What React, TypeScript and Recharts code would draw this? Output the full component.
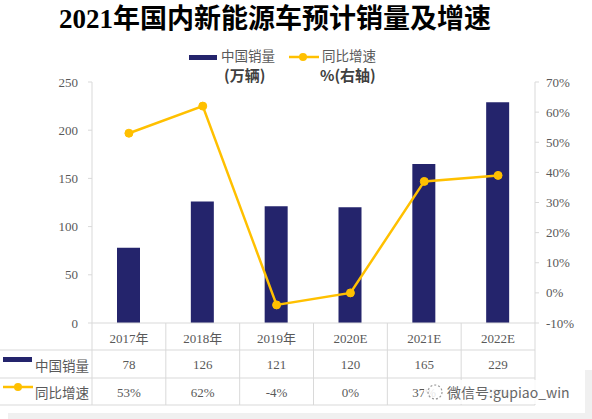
import { ComposedChart, Bar, Line, XAxis, YAxis } from 'recharts';

const years = ['2017年', '2018年', '2019年', '2020E', '2021E', '2022E'];
const sales = [78, 126, 121, 120, 165, 229];
const growth = [53, 62, -4, 0, 37, 39];
const leftTicks = [0, 50, 100, 150, 200, 250];
const rightTicks = [-10, 0, 10, 20, 30, 40, 50, 60, 70];

const data = years.map((year, i) => ({ year, sales: sales[i], growth: growth[i] }));

const W = 592;
const H = 419;
const PLOT_LEFT = 92;
const PLOT_RIGHT = 535;
const PLOT_TOP = 82;
const PLOT_BOTTOM = 323;
const BAND = (PLOT_RIGHT - PLOT_LEFT) / years.length;
const ROW1 = 350;
const ROW2 = 378;
const TABLE_BOTTOM = 405;

const NAVY = '#24246c';
const GOLD = '#ffc000';
const GRID = '#d9d9d9';
const TEXT = '#595959';
const SERIF = '"Liberation Serif", "Noto Sans CJK SC", serif';
const SANS = '"Noto Sans CJK SC", "Noto Sans", sans-serif';

function TableTick(props: any) {
  const { x, index } = props;
  const half = BAND / 2;
  const last = index === years.length - 1;
  return (
    <g>
      {index === 0 && (
        <g>
          <line x1={0} x2={PLOT_RIGHT} y1={ROW1} y2={ROW1} stroke={GRID} />
          <line x1={0} x2={PLOT_RIGHT} y1={ROW2} y2={ROW2} stroke={GRID} />
          <line x1={0} x2={PLOT_RIGHT} y1={TABLE_BOTTOM} y2={TABLE_BOTTOM} stroke={GRID} />
          <rect x={3} y={357} width={29} height={5} fill={NAVY} />
          <text x={35} y={365} fontSize={13.5} fill={TEXT} fontFamily={SANS} dominantBaseline="central">
            中国销量
          </text>
          <line x1={3} x2={33} y1={387} y2={387} stroke={GOLD} strokeWidth={2.5} />
          <circle cx={18} cy={387} r={4} fill={GOLD} />
          <text x={35} y={392} fontSize={13.5} fill={TEXT} fontFamily={SANS} dominantBaseline="central">
            同比增速
          </text>
        </g>
      )}
      <line x1={x - half} x2={x - half} y1={PLOT_BOTTOM} y2={TABLE_BOTTOM} stroke={GRID} />
      {last && <line x1={x + half} x2={x + half} y1={PLOT_BOTTOM} y2={TABLE_BOTTOM} stroke={GRID} />}
      <text x={x} y={338} textAnchor="middle" dominantBaseline="central" fontSize={13} fill={TEXT} fontFamily={SERIF}>
        {years[index]}
      </text>
      <text x={x} y={364} textAnchor="middle" dominantBaseline="central" fontSize={13} fill={TEXT} fontFamily={SERIF}>
        {sales[index]}
      </text>
      <text x={x} y={392} textAnchor="middle" dominantBaseline="central" fontSize={13} fill={TEXT} fontFamily={SERIF}>
        {growth[index] + '%'}
      </text>
    </g>
  );
}

export default function App() {
  return (
    <div style={{ position: 'absolute', left: 0, top: 0, width: W, height: H, background: '#fff', overflow: 'hidden' }}>
      <div
        style={{
          position: 'absolute', left: 0, top: 0, width: 550, textAlign: 'center',
          fontFamily: SERIF, fontSize: 27, fontWeight: 'bold', color: '#000', lineHeight: '38px',
        }}
      >
        2021年国内新能源车预计销量及增速
      </div>
      <div style={{ position: 'absolute', left: 189, top: 47, fontFamily: SANS, fontSize: 13.5, color: TEXT, lineHeight: '16px' }}>
        <span style={{ display: 'inline-block', width: 28, height: 5, background: NAVY, verticalAlign: 'middle', marginRight: 4 }} />
        中国销量
      </div>
      <div style={{ position: 'absolute', left: 289, top: 47, fontFamily: SANS, fontSize: 13.5, color: TEXT, lineHeight: '16px' }}>
        <svg width={30} height={10} style={{ verticalAlign: 'middle', marginRight: 3 }}>
          <line x1={0} x2={30} y1={5} y2={5} stroke={GOLD} strokeWidth={2.5} />
          <circle cx={14} cy={5} r={4} fill={GOLD} />
        </svg>
        同比增速
      </div>
      <div style={{ position: 'absolute', left: 224, top: 67, fontFamily: SANS, fontSize: 15, fontWeight: 'bold', color: '#404040', lineHeight: '16px' }}>
        (万辆)
      </div>
      <div style={{ position: 'absolute', left: 320, top: 67, fontFamily: SANS, fontSize: 15, fontWeight: 'bold', color: '#404040', lineHeight: '16px' }}>
        %(右轴)
      </div>
      <ComposedChart
        width={W}
        height={H}
        data={data}
        margin={{ top: PLOT_TOP, right: 0, bottom: 0, left: 0 }}
        barCategoryGap={0}
      >
        <XAxis
          dataKey="year"
          height={H - PLOT_BOTTOM}
          axisLine={{ stroke: GRID }}
          tickLine={false}
          interval={0}
          tick={<TableTick />}
        />
        <YAxis
          yAxisId="left"
          width={PLOT_LEFT}
          domain={[0, 250]}
          ticks={leftTicks}
          axisLine={{ stroke: GRID }}
          tickLine={{ stroke: GRID }}
          tickSize={4}
          tickMargin={10}
          tick={{ fill: TEXT, fontSize: 13, fontFamily: SERIF }}
        />
        <YAxis
          yAxisId="right"
          orientation="right"
          width={W - PLOT_RIGHT}
          domain={[-10, 70]}
          ticks={rightTicks}
          tickFormatter={(v: number) => v + '%'}
          axisLine={{ stroke: GRID }}
          tickLine={{ stroke: GRID }}
          tickSize={4}
          tickMargin={7}
          tick={{ fill: TEXT, fontSize: 13, fontFamily: SERIF }}
        />
        <Bar yAxisId="left" dataKey="sales" fill={NAVY} barSize={23} isAnimationActive={false} />
        <Line
          yAxisId="right"
          dataKey="growth"
          stroke={GOLD}
          strokeWidth={2.5}
          dot={{ r: 4, fill: GOLD, stroke: GOLD, strokeWidth: 1 }}
          activeDot={false}
          isAnimationActive={false}
        />
      </ComposedChart>
      <div style={{ position: 'absolute', left: 424, top: 380, width: 160, height: 24, background: 'rgba(255,255,255,0.85)' }} />
      <svg style={{ position: 'absolute', left: 426, top: 383 }} width={18} height={18}>
        <circle cx={9} cy={9} r={7} fill="none" stroke="#999" strokeWidth={1.2} strokeDasharray="2 2" />
      </svg>
      <div style={{ position: 'absolute', left: 447, top: 381, fontFamily: SANS, fontSize: 14, color: '#666', lineHeight: '22px' }}>
        微信号:gupiao_win
      </div>
      <div style={{ position: 'absolute', left: 8, top: 413, width: 577, height: 6, background: '#f0f0f0' }} />
      <div style={{ position: 'absolute', left: 585, top: 370, width: 7, height: 49, background: '#f0f0f0' }} />
    </div>
  );
}
